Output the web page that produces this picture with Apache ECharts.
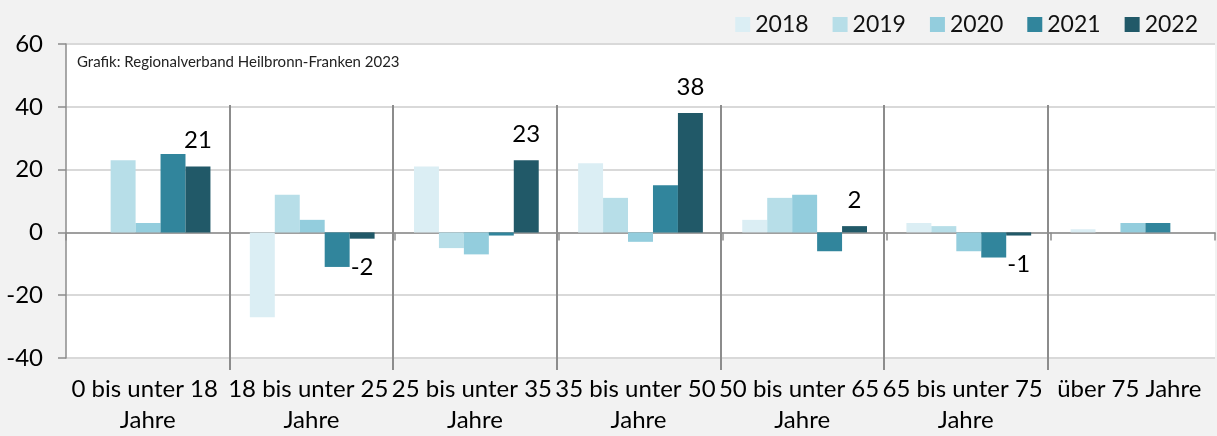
<!DOCTYPE html>
<html>
<head>
<meta charset="utf-8">
<script src="https://cdn.jsdelivr.net/npm/echarts@6/dist/echarts.min.js"></script>
<style>
html,body{margin:0;padding:0;background:#f2f2f2;}
#chart{width:1217px;height:436px;}
</style>
</head>
<body>
<div id="chart"></div>
<script>
const categories = ['0 bis unter 18 Jahre', '18 bis unter 25 Jahre', '25 bis unter 35 Jahre', '35 bis unter 50 Jahre', '50 bis unter 65 Jahre', '65 bis unter 75 Jahre', 'über 75 Jahre'];
const years = ['2018', '2019', '2020', '2021', '2022'];
const v2018 = [0, -27, 21, 22, 4, 3, 1];
const v2019 = [23, 12, -5, 11, 11, 2, 0];
const v2020 = [3, 4, -7, -3, 12, -6, 3];
const v2021 = [25, -11, -1, 15, -6, -8, 3];
const v2022 = [21, -2, 23, 38, 2, -1, 0];
const yTicks = { min: -40, max: 60, interval: 20 };
const sourceNote = 'Grafik: Regionalverband Heilbronn-Franken 2023';

const colors = ['#dbeef4', '#b7dee8', '#93cddd', '#31859c', '#215968'];
const FONT = 'Lato';
const allValues = [v2018, v2019, v2020, v2021, v2022];

const chart = echarts.init(document.getElementById('chart'));

const series = allValues.map((vals, i) => {
  const s = {
    name: years[i],
    type: 'bar',
    xAxisIndex: 0,
    yAxisIndex: 0,
    barGap: '0%',
    barCategoryGap: '24%',
    itemStyle: { color: colors[i] },
    emphasis: { disabled: true },
    data: vals.slice()
  };
  if (i === 4) {
    s.data = vals.map(v => ({
      value: v,
      label: {
        show: v !== 0,
        position: v < 0 ? 'bottom' : 'top',
        distance: v < 0 ? 17 : 14
      }
    }));
    s.label = { fontFamily: FONT, fontSize: 24, color: '#000' };
  }
  return s;
});

const option = {
  backgroundColor: '#f2f2f2',
  animation: false,
  color: colors,
  title: {
    text: sourceNote,
    left: 72, top: 50,
    textStyle: { fontFamily: FONT, fontSize: 15, fontWeight: 'normal', color: '#222' }
  },
  legend: {
    data: years,
    right: 14, top: 8,
    itemWidth: 15, itemHeight: 15,
    itemGap: 24,
    icon: 'rect',
    textStyle: { fontFamily: FONT, fontSize: 23, color: '#111' }
  },
  grid: [
    { left: 66, right: 2, top: 44, bottom: 78, show: true, backgroundColor: '#ffffff', borderWidth: 0 },
    { left: 66, right: 2, top: 105, bottom: 60, show: false }
  ],
  xAxis: [
    {
      type: 'category', gridIndex: 0, data: categories,
      axisLine: { onZero: true, lineStyle: { color: '#8c8c8c', width: 1.5 } },
      axisTick: { show: true, length: 8, lineStyle: { color: '#8c8c8c', width: 1.5 } },
      axisLabel: { show: false },
      splitLine: { show: false }
    },
    {
      type: 'category', gridIndex: 1, data: categories, z: 3,
      axisLine: { show: false },
      axisTick: { show: false },
      splitLine: { show: true, showMinLine: false, showMaxLine: false, lineStyle: { color: '#8c8c8c', width: 2 } },
      axisLabel: {
        interval: 0, fontFamily: FONT, fontSize: 24, color: '#000', margin: 4,
        lineHeight: 31, width: 170, overflow: 'break'
      }
    }
  ],
  yAxis: [
    {
      type: 'value', gridIndex: 0, min: yTicks.min, max: yTicks.max, interval: yTicks.interval,
      axisLine: { show: true, lineStyle: { color: '#8c8c8c', width: 1.5 } },
      axisTick: { show: true, length: 8, lineStyle: { color: '#8c8c8c', width: 1.5 } },
      axisLabel: { fontFamily: FONT, fontSize: 24, color: '#000', margin: 23 },
      splitLine: { show: true, lineStyle: { color: '#d9d9d9', width: 2 } }
    },
    { type: 'value', gridIndex: 1, min: 0, max: 1, show: false }
  ],
  series: series
};
chart.setOption(option);
</script>
</body>
</html>
